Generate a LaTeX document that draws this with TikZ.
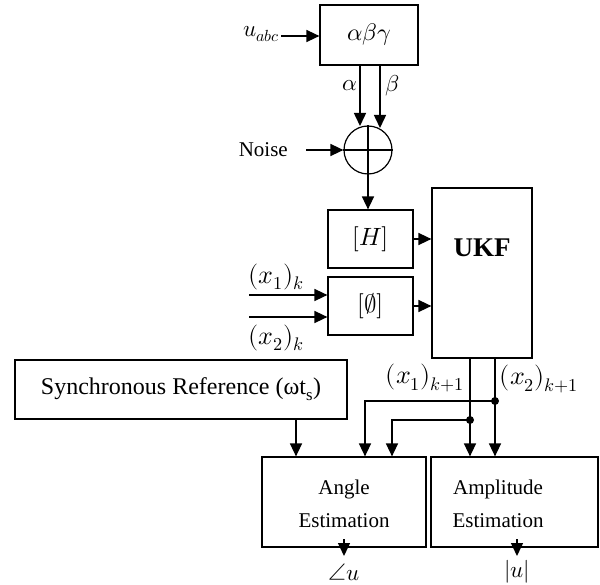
\documentclass[tikz,border=0pt]{standalone}
\usepackage{fontspec}
\usepackage{unicode-math}
\setmainfont{Liberation Serif}
\setmathfont{Latin Modern Math}
\usetikzlibrary{arrows.meta}
\tikzset{
  blk/.style={draw, line width=1.2pt, inner sep=0pt},
  arr/.style={-{Triangle[length=13pt,width=12pt]}, line width=1.5pt},
  jdot/.style={circle, fill, inner sep=0pt, minimum size=8pt},
  txt/.style={inner sep=0pt, font=\fontsize{21}{33}\selectfont, align=center},
  mth/.style={inner sep=0pt, font=\fontsize{26}{30}\selectfont},
  gmth/.style={inner sep=0pt, font=\fontsize{23}{27}\selectfont},
}
\begin{document}
\begin{tikzpicture}[x=1pt,y=-1pt]
\useasboundingbox (0,0) rectangle (600,585);
% blocks
\node[blk, minimum width=98pt, minimum height=60pt, font=\fontsize{24}{28}\selectfont] (abg) at (369,35) {$\alpha\beta\gamma$};
\node[blk, circle, minimum size=48pt] (sum) at (368,150) {};
\draw[line width=1.2pt] (sum.north) -- (sum.south) (sum.west) -- (sum.east);
\node[blk, minimum width=85pt, minimum height=58pt, font=\fontsize{25}{28}\selectfont] (H) at (370.5,239) {$[H]$};
\node[blk, minimum width=85pt, minimum height=58pt, font=\fontsize{25}{28}\selectfont] (phi) at (370.5,306) {$[\emptyset]$};
\node[blk, minimum width=100pt, minimum height=170pt] (ukf) at (482,273) {};
\node[inner sep=0pt, font=\fontsize{27}{30}\selectfont\bfseries] (ukft) at (482,248) {UKF};
\node[blk, minimum width=332pt, minimum height=59pt, font=\fontsize{24}{28}\selectfont] (sync) at (181,389.5) {Synchronous Reference (ωt\textsubscript{s})};
\node[blk, minimum width=164pt, minimum height=90pt] (angle) at (344,502) {};
\node[txt] (anglet) at (344,503.5) {Angle\\Estimation};
\node[blk, minimum width=167pt, minimum height=90pt] (amp) at (514.5,502) {};
\node[txt] (ampt) at (498,503.5) {Amplitude\\Estimation};
% labels
\node[gmth, anchor=east] (uabc) at (280,34) {$u_{abc}$};
\node[txt, anchor=east] (noise) at (288,150) {Noise};
\node[gmth] (alab) at (350,86) {$\alpha$};
\node[gmth] (blab) at (392,86) {$\beta$};
\node[mth] (x1k) at (276,277) {$(x_1)_k$};
\node[mth] (x2k) at (276,338) {$(x_2)_k$};
\node[mth] (x1n) at (425,378) {$(x_1)_{k+1}$};
\node[mth] (x2n) at (539,379) {$(x_2)_{k+1}$};
\node[gmth] (angu) at (344,572) {$\angle u$};
\node[gmth] (absu) at (517,572) {$|u|$};
% coordinates
\coordinate (uin) at (281,36);
\coordinate (a0) at (360,65);
\coordinate (b0) at (380,65);
\coordinate (nin) at (306,150);
\coordinate (x1in) at (249,295);
\coordinate (x2in) at (249,317);
\coordinate (o1) at (470,358);
\coordinate (o2) at (495,358);
\node[jdot] (d2) at (495,401) {};
\node[jdot] (d1) at (470,420) {};
\coordinate (t2) at (365,401);
\coordinate (t1) at (392,420);
\coordinate (s0) at (296,419);
\coordinate (ao) at (344,539);
\coordinate (aot) at (344,556);
\coordinate (mo) at (517,539);
\coordinate (mot) at (517,556);
% connectors
\draw[arr] (uin) -- (uin -| abg.west);
\draw[arr] (a0) -- (360,126);
\draw[arr] (b0) -- (380,128);
\draw[arr] (nin) -- (sum.west);
\draw[arr] (sum.south) -- (sum.south |- H.north);
\draw[arr] (H.east) -- (H.east -| ukf.west);
\draw[arr] (phi.east) -- (phi.east -| ukf.west);
\draw[arr] (x1in) -- (x1in -| phi.west);
\draw[arr] (x2in) -- (x2in -| phi.west);
\draw[arr] (o1) -- (o1 |- amp.north);
\draw[arr] (o2) -- (o2 |- amp.north);
\draw[arr] (d2.center) -- (t2) -- (t2 |- angle.north);
\draw[arr] (d1.center) -- (t1) -- (t1 |- angle.north);
\draw[arr] (s0) -- (s0 |- angle.north);
\draw[arr] (ao) -- (aot);
\draw[arr] (mo) -- (mot);
\end{tikzpicture}
\end{document}
